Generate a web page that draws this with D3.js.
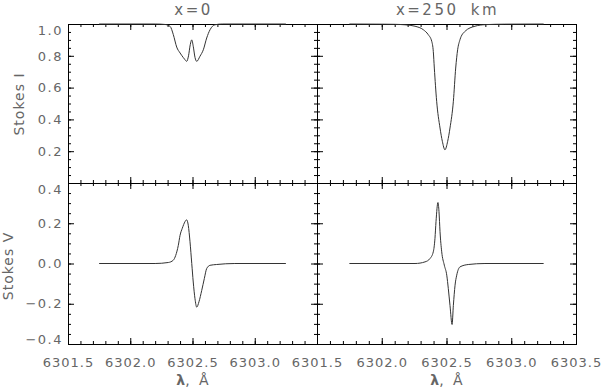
<!DOCTYPE html>
<html>
<head>
<meta charset="utf-8">
<script src="https://cdn.jsdelivr.net/npm/d3@7"></script>
<style>
body { margin: 0; background: #fff; }
text { font-family: "DejaVu Sans", sans-serif; fill: #666; }
</style>
</head>
<body>
<div id="chart"></div>
<script>
// Stokes I, x = 0
var lamI0 = [6301.75, 6302.20, 6302.28, 6302.32, 6302.346, 6302.373, 6302.40, 6302.425, 6302.44, 6302.453,
  6302.468, 6302.482, 6302.494, 6302.506, 6302.52, 6302.534, 6302.56, 6302.587, 6302.614, 6302.641,
  6302.68, 6302.74, 6303.25];
var valI0 = [1.0, 1.0, 0.997, 0.985, 0.933, 0.855, 0.818, 0.79, 0.775, 0.765,
  0.80, 0.87, 0.90, 0.86, 0.79, 0.765, 0.797, 0.838, 0.912, 0.964,
  0.995, 1.0, 1.0];

// Stokes I, x = 250 km
var lamI250 = [6301.75, 6302.0, 6302.10, 6302.18, 6302.257, 6302.321, 6302.359, 6302.386, 6302.398, 6302.406,
  6302.424, 6302.45, 6302.468, 6302.488, 6302.509, 6302.527, 6302.553, 6302.571, 6302.586, 6302.604,
  6302.643, 6302.72, 6302.80, 6302.95, 6303.25];
var valI250 = [1.0, 0.999, 0.998, 0.995, 0.986, 0.964, 0.933, 0.891, 0.828, 0.723,
  0.514, 0.346, 0.262, 0.209, 0.262, 0.346, 0.514, 0.723, 0.838, 0.901,
  0.954, 0.986, 0.996, 0.999, 1.0];

// Stokes V, x = 0
var lamV0 = [6301.75, 6302.20, 6302.306, 6302.346, 6302.365, 6302.386, 6302.40, 6302.418, 6302.44, 6302.453,
  6302.466, 6302.48, 6302.494, 6302.506, 6302.52, 6302.534, 6302.552, 6302.574, 6302.595, 6302.614,
  6302.641, 6302.694, 6302.84, 6303.25];
var valV0 = [0, 0, 0.005, 0.0165, 0.04, 0.09, 0.14, 0.175, 0.208, 0.217,
  0.19, 0.108, 0, -0.092, -0.175, -0.217, -0.19, -0.134, -0.075, -0.025,
  -0.009, -0.005, 0, 0];

// Stokes V, x = 250 km
var lamV250 = [6301.75, 6302.257, 6302.334, 6302.373, 6302.398, 6302.411, 6302.419, 6302.434, 6302.442, 6302.45,
  6302.463, 6302.483, 6302.502, 6302.514, 6302.527, 6302.543, 6302.553, 6302.566, 6302.579, 6302.604,
  6302.668, 6302.797, 6303.25];
var valV250 = [0, 0, 0.008, 0.025, 0.058, 0.125, 0.208, 0.303, 0.258, 0.158,
  0.058, -0.008, -0.058, -0.125, -0.208, -0.303, -0.208, -0.108, -0.058, -0.017,
  -0.005, 0, 0];

var lamTicks = [6301.5, 6302.0, 6302.5, 6303.0, 6303.5];
var iTicks = [0.2, 0.4, 0.6, 0.8, 1.0];
var vTicks = [-0.4, -0.2, 0.0, 0.2, 0.4];
var titles = ["x=0", "x=250 km"];
var yTitles = ["Stokes I", "Stokes V"];

var width = 602, height = 389;

var cols = [{x0: 68, x1: 317}, {x0: 317, x1: 576}];
var rows = [
  {y0: 24, y1: 183, domain: [0, 1], ticks: iTicks, minor: 20},
  {y0: 183, y1: 344, domain: [-0.4, 0.4], ticks: vTicks, minor: 16}
];

var series = [
  [[lamI0, valI0], [lamI250, valI250]],
  [[lamV0, valV0], [lamV250, valV250]]
];

var svg = d3.select("#chart").append("svg")
    .attr("width", width)
    .attr("height", height);

var fmt = d3.format(".1f");

function drawTicks(g, axis, vals, len) {
  g.call(axis.tickValues(vals).tickSize(-len).tickFormat(""));
  g.select(".domain").remove();
  g.selectAll("line").attr("stroke", "#000");
}

rows.forEach(function(row, r) {
  cols.forEach(function(col, c) {
    var x = d3.scaleLinear().domain([6301.5, 6303.5]).range([col.x0, col.x1]);
    var y = d3.scaleLinear().domain(row.domain).range([row.y1, row.y0]);
    var g = svg.append("g");

    var xMinor = x.ticks(20);
    var yMinor = y.ticks(row.minor);

    [[d3.axisBottom(x), "translate(0," + row.y1 + ")"],
     [d3.axisTop(x), "translate(0," + row.y0 + ")"]].forEach(function(a) {
      drawTicks(g.append("g").attr("transform", a[1]), a[0], xMinor, 3);
      drawTicks(g.append("g").attr("transform", a[1]), a[0], lamTicks, 6);
    });
    [[d3.axisLeft(y), "translate(" + col.x0 + ",0)"],
     [d3.axisRight(y), "translate(" + col.x1 + ",0)"]].forEach(function(a) {
      drawTicks(g.append("g").attr("transform", a[1]), a[0], yMinor, 3);
      drawTicks(g.append("g").attr("transform", a[1]), a[0], row.ticks, 6);
    });

    g.append("rect")
      .attr("x", col.x0 + 0.5)
      .attr("y", row.y0 + 0.5)
      .attr("width", col.x1 - col.x0)
      .attr("height", row.y1 - row.y0)
      .attr("fill", "none")
      .attr("stroke", "#000");

    var s = series[r][c];
    var pts = d3.zip(s[0], s[1]);
    var line = d3.line()
      .x(function(d) { return x(d[0]); })
      .y(function(d) { return y(d[1]); })
      .curve(d3.curveMonotoneX);
    g.append("path")
      .datum(pts)
      .attr("d", line)
      .attr("fill", "none")
      .attr("stroke", "#333")
      .attr("stroke-width", 1);

    // y tick labels on the left column
    if (c === 0) {
      g.selectAll(".ylab")
        .data(row.ticks)
        .enter().append("text")
        .attr("x", col.x0 - 5)
        .attr("y", function(d) {
          var cy = Math.min(Math.max(y(d), row.y0 + 6), row.y1 - 5);
          return cy + 4.7;
        })
        .attr("text-anchor", "end")
        .style("font-size", "13px")
        .style("letter-spacing", "1.5px")
        .text(function(d) { return fmt(d); });

      g.append("text")
        .attr("transform", "translate(" + (r === 0 ? 19 : 8) + "," + (r === 0 ? 104 : 266) + ") rotate(-90)")
        .attr("text-anchor", "middle")
        .attr("dominant-baseline", "central")
        .style("font-size", "14px")
        .style("letter-spacing", "1px")
        .text(yTitles[r]);
    }

    if (r === 0) {
      g.append("text")
        .attr("x", (col.x0 + col.x1) / 2 + 1)
        .attr("y", 15)
        .attr("text-anchor", "middle")
        .style("font-size", "15px")
        .style("letter-spacing", "2.5px")
        .style("word-spacing", "5px")
        .text(titles[c]);
    }

    if (r === 1) {
      var labs = c === 0 ? lamTicks.slice(0, -1) : lamTicks;
      g.selectAll(".xlab")
        .data(labs)
        .enter().append("text")
        .attr("x", function(d) { return x(d) + 0.5; })
        .attr("y", 367)
        .attr("text-anchor", "middle")
        .style("font-size", "13px")
        .style("letter-spacing", "1px")
        .text(function(d) { return fmt(d); });

      var t = g.append("text")
        .attr("x", (col.x0 + col.x1) / 2)
        .attr("y", 385)
        .attr("text-anchor", "middle")
        .style("font-size", "14px")
        .style("word-spacing", "5px");
      t.append("tspan").style("font-weight", "bold").text("λ");
      t.append("tspan").text(", Å");
    }
  });
});
</script>
</body>
</html>
